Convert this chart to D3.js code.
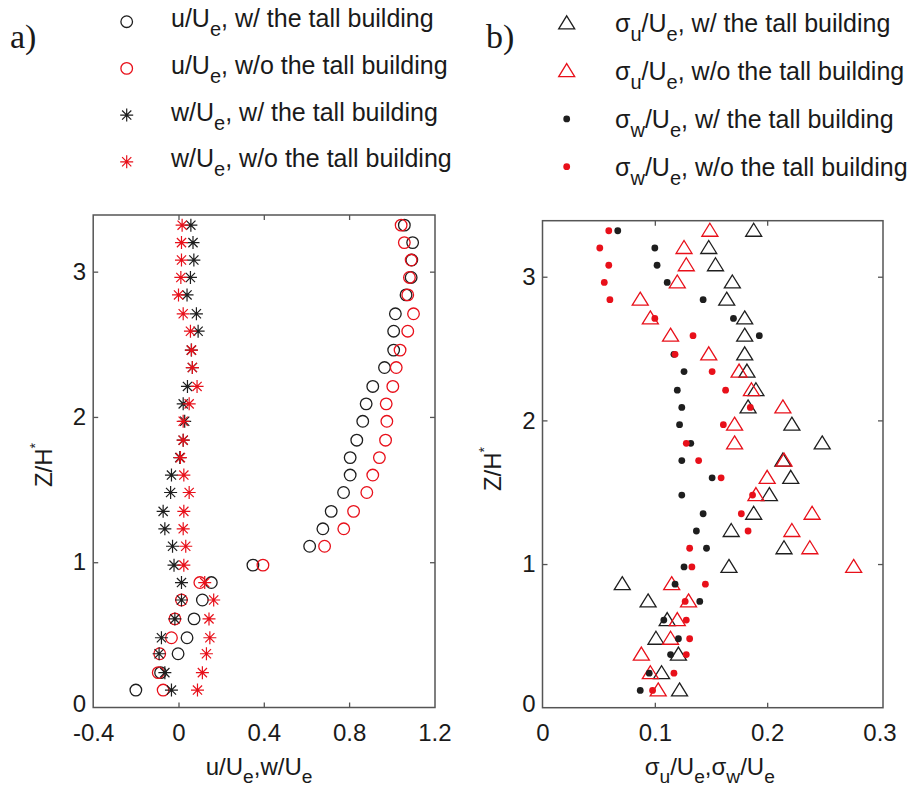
<!DOCTYPE html>
<html>
<head>
<meta charset="utf-8">
<script src="https://cdn.jsdelivr.net/npm/d3@7"></script>
<style>
  body { margin: 0; background: #fff; }
  text { font-family: "Liberation Sans", Arial, sans-serif; fill: #1a1a1a; }
  text.tag { font-family: "Liberation Serif", "Times New Roman", serif; }
</style>
</head>
<body>
<svg width="911" height="792"></svg>
<script>
// heights shared by both profiles (Z/H*)
const zLevels = [3.32, 3.20, 3.08, 2.96, 2.84, 2.71, 2.59, 2.46, 2.34, 2.21, 2.09, 1.97, 1.84, 1.72,
  1.60, 1.48, 1.35, 1.23, 1.11, 0.98, 0.86, 0.74, 0.61, 0.48, 0.37, 0.24, 0.12];

// panel a) mean velocities
const uWith = [1.059, 1.098, 1.094, 1.091, 1.067, 1.017, 1.009, 1.009, 0.966, 0.911, 0.880, 0.864, 0.836, 0.805,
  0.805, 0.774, 0.716, 0.677, 0.615, 0.349, 0.154, 0.112, 0.073, 0.040, -0.002, -0.084, -0.200];
const uWithout = [1.044, 1.059, 1.091, 1.083, 1.075, 1.102, 1.075, 1.039, 1.021, 1.005, 0.974, 0.977, 0.971, 0.942,
  0.911, 0.883, 0.821, 0.775, 0.685, 0.396, 0.100, 0.014, -0.017, -0.033, -0.088, -0.095, -0.072];
const wWith = [0.058, 0.068, 0.072, 0.056, 0.040, 0.084, 0.092, 0.060, 0.065, 0.042, 0.022, 0.029, 0.022, 0.006,
  -0.033, -0.037, -0.072, -0.064, -0.028, -0.021, 0.014, 0.014, -0.017, -0.080, -0.091, -0.064, -0.033];
const wWithout = [0.017, 0.014, 0.014, 0.011, 0.000, 0.022, 0.056, 0.061, 0.065, 0.087, 0.050, 0.022, 0.022, 0.009,
  0.025, 0.050, 0.025, 0.022, 0.034, 0.025, 0.123, 0.165, 0.143, 0.147, 0.131, 0.112, 0.089];

// panel b) turbulence intensities
const suWith = [0.188, 0.148, 0.154, 0.169, 0.164, 0.180, 0.180, 0.180, 0.182, 0.190, 0.183, 0.222, 0.249, 0.214,
  0.221, 0.202, 0.188, 0.168, 0.215, 0.166, 0.071, 0.094, 0.111, 0.101, 0.121, 0.106, 0.122];
const suWithout = [0.149, 0.126, 0.128, 0.120, 0.087, 0.096, 0.114, 0.148, 0.175, 0.186, 0.214, 0.171, 0.171, 0.215,
  0.200, 0.190, 0.240, 0.222, 0.238, 0.277, 0.115, 0.130, 0.120, 0.114, 0.088, 0.096, 0.103];
const swWith = [0.067, 0.100, 0.102, 0.111, 0.143, 0.170, 0.193, 0.117, 0.126, 0.120, 0.124, 0.122, 0.132, 0.124,
  0.151, 0.124, 0.143, 0.137, 0.146, 0.126, 0.118, 0.140, 0.108, 0.121, 0.114, 0.095, 0.087];
const swWithout = [0.059, 0.051, 0.059, 0.055, 0.060, 0.100, 0.134, 0.118, 0.151, 0.163, 0.185, 0.161, 0.128, 0.139,
  0.159, 0.187, 0.177, 0.183, 0.131, 0.133, 0.145, 0.127, 0.128, 0.131, 0.128, 0.117, 0.098];

// tick labels
const xTicksA = [-0.4, 0, 0.4, 0.8, 1.2];
const xTicksB = [0, 0.1, 0.2, 0.3];
const yTicks = [0, 1, 2, 3];

const BLACK = '#1e1e1e';
const RED = '#e8101a';

// legend texts: [piece, 'sub'] means subscript
const legendA = [
  { data: uWith, marker: 'circle', color: BLACK, label: [['u/U'], ['e', 'sub'], [', w/ the tall building']] },
  { data: uWithout, marker: 'circle', color: RED, label: [['u/U'], ['e', 'sub'], [', w/o the tall building']] },
  { data: wWith, marker: 'star', color: BLACK, label: [['w/U'], ['e', 'sub'], [', w/ the tall building']] },
  { data: wWithout, marker: 'star', color: RED, label: [['w/U'], ['e', 'sub'], [', w/o the tall building']] }
];
const legendB = [
  { data: suWith, marker: 'tri', color: BLACK, label: [['σ'], ['u', 'sub'], ['/U'], ['e', 'sub'], [', w/ the tall building']] },
  { data: suWithout, marker: 'tri', color: RED, label: [['σ'], ['u', 'sub'], ['/U'], ['e', 'sub'], [', w/o the tall building']] },
  { data: swWith, marker: 'dot', color: BLACK, label: [['σ'], ['w', 'sub'], ['/U'], ['e', 'sub'], [', w/ the tall building']] },
  { data: swWithout, marker: 'dot', color: RED, label: [['σ'], ['w', 'sub'], ['/U'], ['e', 'sub'], [', w/o the tall building']] }
];

const svg = d3.select('svg');

const markerPath = {
  star: 'M-6.5,0H6.5M0,-6.5V6.5M-4.6,-4.6L4.6,4.6M-4.6,4.6L4.6,-4.6',
  tri: 'M0,-7.5L8,5.5L-8,5.5Z'
};

function drawMarker(sel, type, color) {
  if (type === 'circle') {
    sel.append('circle').attr('r', 5.8).attr('fill', 'none').attr('stroke', color).attr('stroke-width', 1.3);
  } else if (type === 'dot') {
    sel.append('circle').attr('r', 3.4).attr('fill', color);
  } else {
    sel.append('path').attr('d', markerPath[type]).attr('fill', 'none')
      .attr('stroke', color).attr('stroke-width', type === 'star' ? 1.2 : 1.3);
  }
}

// writes text with subscripts as tspans
function richText(textSel, parts, shift) {
  let down = false;
  parts.forEach(([t, kind]) => {
    const ts = textSel.append('tspan').text(t);
    if (kind === 'sub' && !down) { ts.attr('dy', shift).attr('font-size', '0.8em'); down = true; }
    else if (kind === 'sub') { ts.attr('font-size', '0.8em'); }
    else if (down) { ts.attr('dy', -shift); down = false; }
  });
}

function panel(opt) {
  const { x, y, box, xTicks, series, xLabel } = opt;
  const g = svg.append('g');

  // ticks, inward on all four sides
  const fmt = d => String(d);
  const endsX = x.domain(), endsY = y.domain();
  const bottom = g.append('g').attr('transform', `translate(0,${box.bottom})`)
    .call(d3.axisBottom(x).tickValues(xTicks).tickSize(-5).tickPadding(16).tickFormat(fmt));
  const top = g.append('g').attr('transform', `translate(0,${box.top})`)
    .call(d3.axisTop(x).tickValues(xTicks).tickSize(-5).tickFormat(''));
  const left = g.append('g').attr('transform', `translate(${box.left},0)`)
    .call(d3.axisLeft(y).tickValues(yTicks).tickSize(-5).tickPadding(7).tickFormat(fmt));
  const right = g.append('g').attr('transform', `translate(${box.right},0)`)
    .call(d3.axisRight(y).tickValues(yTicks).tickSize(-5).tickFormat(''));

  [bottom, top, left, right].forEach(a => {
    a.select('.domain').remove();
    a.selectAll('.tick line').attr('stroke', '#555').attr('stroke-width', 1.3);
    a.selectAll('.tick text').attr('font-size', 24).attr('fill', '#1a1a1a')
      .attr('font-family', null);
  });
  // the "0" of the height axis sits a little above the corner
  left.selectAll('.tick').filter(d => d === 0).select('text').attr('y', -4);
  [bottom, top].forEach(a => a.selectAll('.tick').filter(d => d === endsX[0] || d === endsX[1]).select('line').remove());
  [left, right].forEach(a => a.selectAll('.tick').filter(d => d === endsY[0]).select('line').remove());

  g.append('rect')
    .attr('x', box.left).attr('y', box.top)
    .attr('width', box.right - box.left).attr('height', box.bottom - box.top)
    .attr('fill', 'none').attr('stroke', '#555').attr('stroke-width', 1.5);

  // data
  series.forEach(s => {
    g.append('g').selectAll('g')
      .data(d3.zip(s.data, zLevels))
      .join('g')
      .attr('transform', d => `translate(${x(d[0])},${y(d[1])})`)
      .each(function () { drawMarker(d3.select(this), s.marker, s.color); });
  });

  // legend
  series.forEach((s, i) => {
    const ly = opt.legend.y0 + i * opt.legend.dy;
    const m = g.append('g').attr('transform', `translate(${opt.legend.mx},${ly})`);
    drawMarker(m, s.marker, s.color);
    const t = g.append('text').attr('x', opt.legend.tx).attr('y', ly + opt.legend.base)
      .attr('font-size', 25);
    richText(t, s.label, 9);
  });

  // panel tag
  g.append('text').attr('class', 'tag').attr('x', opt.tag.x).attr('y', opt.tag.y)
    .attr('font-size', 34).text(opt.tag.text);

  // axis labels
  const xl = g.append('text').attr('x', (box.left + box.right) / 2 + opt.xLabelDx).attr('y', 775)
    .attr('text-anchor', 'middle').attr('font-size', 24);
  richText(xl, xLabel, 8);

  const yl = g.append('text')
    .attr('transform', `translate(${opt.yLabel.x},${opt.yLabel.y}) rotate(-90)`)
    .attr('text-anchor', 'middle').attr('font-size', 24);
  yl.append('tspan').text('Z/H');
  yl.append('tspan').text('*').attr('font-size', 14).attr('dy', -12);
}

const boxA = { left: 93.2, right: 435, top: 215, bottom: 707.5 };
panel({
  x: d3.scaleLinear().domain([-0.4, 1.2]).range([93.2, 434.4]),
  y: d3.scaleLinear().domain([0, 3.39]).range([707.5, 215]),
  box: boxA,
  xTicks: xTicksA,
  series: legendA,
  xLabel: [['u/U'], ['e', 'sub'], [',w/U'], ['e', 'sub']],
  xLabelDx: -5,
  legend: { mx: 126.7, tx: 171, y0: 21.7, dy: 46.7, base: 5.5 },
  tag: { x: 10, y: 48, text: 'a)' },
  yLabel: { x: 52, y: 465 }
});

const boxB = { left: 542.5, right: 883, top: 220.7, bottom: 707.7 };
panel({
  x: d3.scaleLinear().domain([0, 0.3]).range([542.5, 879.5]),
  y: d3.scaleLinear().domain([0, 3.39]).range([707.7, 220.7]),
  box: boxB,
  xTicks: xTicksB,
  series: legendB,
  xLabel: [['σ'], ['u', 'sub'], ['/U'], ['e', 'sub'], [',σ'], ['w', 'sub'], ['/U'], ['e', 'sub']],
  xLabelDx: -3,
  legend: { mx: 566.7, tx: 615, y0: 23.3, dy: 47.8, base: 9 },
  tag: { x: 486, y: 48, text: 'b)' },
  yLabel: { x: 501, y: 469 }
});
</script>
</body>
</html>
